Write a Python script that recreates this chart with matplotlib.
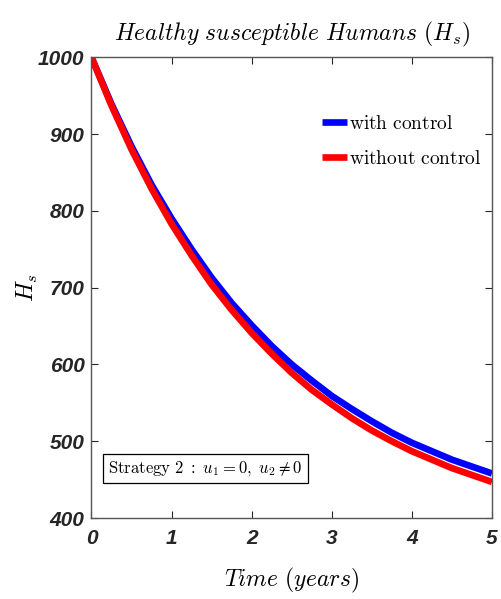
import matplotlib
matplotlib.use('Agg')
import matplotlib.pyplot as plt
import numpy as np

plt.rcParams['mathtext.fontset'] = 'cm'
plt.rcParams['axes.linewidth'] = 1.0

# time in years, quarter-year samples
t = [0, 0.25, 0.5, 0.75, 1, 1.25, 1.5, 1.75, 2, 2.25, 2.5,
     2.75, 3, 3.25, 3.5, 3.75, 4, 4.25, 4.5, 4.75, 5]

hs_with = [1000, 939, 884, 834, 790, 750, 713, 680, 651, 624, 600,
           579, 559, 542, 526, 511, 498, 487, 476, 467, 458]
hs_without = [1000, 937, 880, 829, 783, 742, 704, 671, 641, 614, 589,
              567, 548, 530, 514, 500, 487, 476, 465, 456, 447]

xticks = [0, 1, 2, 3, 4, 5]
yticks = [400, 500, 600, 700, 800, 900, 1000]

fig = plt.figure(figsize=(5.01, 5.99), dpi=100)
ax = fig.add_axes([0.1826, 0.1352, 0.7994, 0.7691])

ax.plot(t, hs_with, color='#0000ff', lw=4.8, label=r'$\mathrm{with\ control}$',
        solid_capstyle='butt')
ax.plot(t, hs_without, color='#ff0000', lw=4.8, label=r'$\mathrm{without\ control}$',
        solid_capstyle='butt')

ax.set_xlim(0, 5)
ax.set_ylim(400, 1000)
ax.set_xticks(xticks)
ax.set_yticks(yticks)

tick_font = dict(family='Liberation Sans', weight='bold', style='italic', size=15)
ax.set_xticklabels([str(v) for v in xticks], fontdict=tick_font, color='#262626')
ax.set_yticklabels([str(v) for v in yticks], fontdict=tick_font, color='#262626')
ax.tick_params(direction='in', length=5, width=0.8, top=True, right=True,
               colors='#262626')
ax.tick_params(axis='x', pad=8)
ax.tick_params(axis='y', pad=5)

for s in ax.spines.values():
    s.set_color('#555555')

ax.set_title(r'$Healthy\ susceptible\ Humans\ (H_s)$', fontsize=17, pad=12)
ax.set_xlabel(r'$Time\ (years)$', fontsize=17)
ax.set_ylabel(r'$H_s$', fontsize=17)
ax.xaxis.set_label_coords(0.5, -0.105)
ax.yaxis.set_label_coords(-0.128, 0.5)

ax.legend(loc='upper left', bbox_to_anchor=(0.575, 0.878), frameon=False,
          fontsize=14, handlelength=1.3, handletextpad=0.1,
          borderaxespad=0, borderpad=0, labelspacing=0.85)

ax.text(0.042, 0.108, r'$\mathrm{Strategy\ 2}\ :\ u_1=0,\ u_2\neq 0$',
        transform=ax.transAxes, fontsize=12, va='center', ha='left',
        bbox=dict(boxstyle='square,pad=0.3', fc='white', ec='black', lw=0.9))

fig.savefig('out.png', dpi=100)
